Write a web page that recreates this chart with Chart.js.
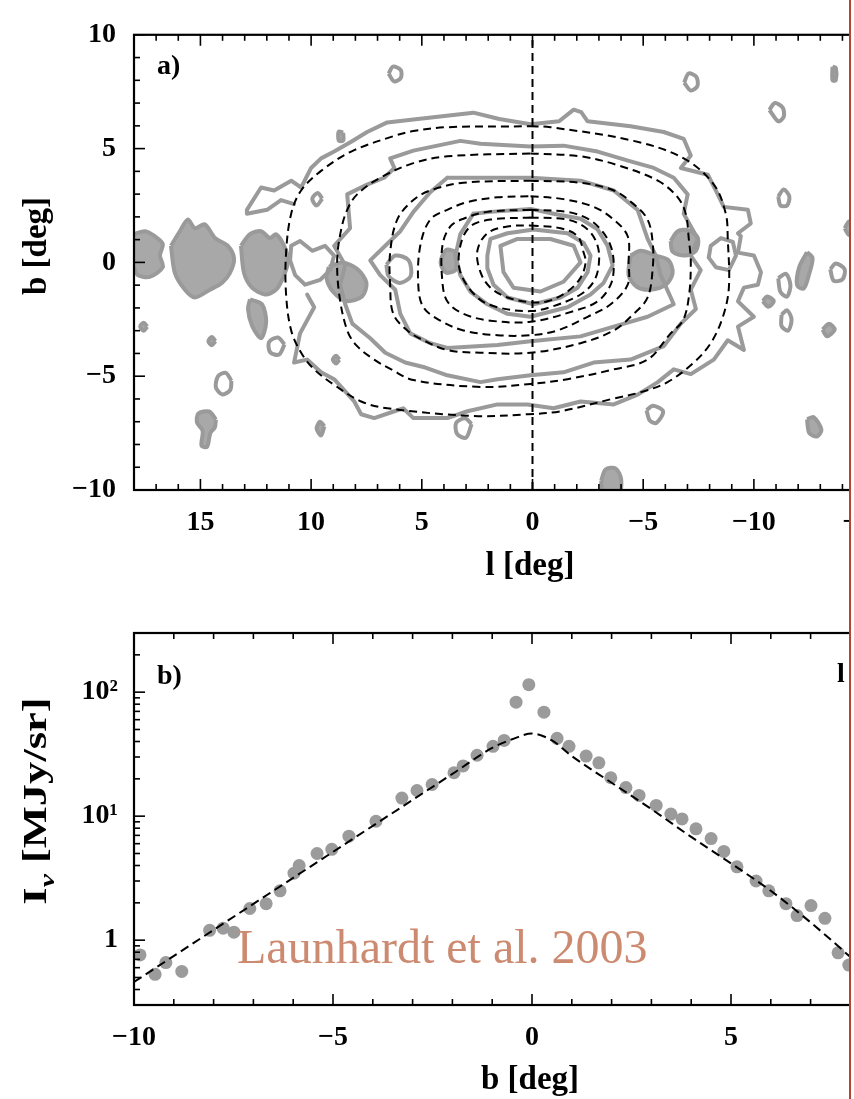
<!DOCTYPE html>
<html>
<head>
<meta charset="utf-8">
<script src="https://cdn.jsdelivr.net/npm/chart.js@4/dist/chart.umd.min.js"></script>
<style>
html,body{margin:0;padding:0;background:#fff;overflow:hidden;width:854px;height:1099px}
#wrap{position:absolute;left:0;top:0;width:850px;height:1099px;overflow:hidden;background:#fff}
#cA{position:absolute;left:0;top:0}
#cB{position:absolute;left:0;top:600px}
#redline{position:absolute;left:849px;top:0;width:2px;height:1099px;background:#b4442f}
#credit{position:absolute;left:237px;top:923px;font-family:"Liberation Serif",serif;font-size:48px;line-height:47px;color:#cc8a70;white-space:nowrap}
</style>
</head>
<body>
<div id="wrap">
<canvas id="cA" width="960" height="600"></canvas>
<canvas id="cB" width="960" height="499"></canvas>
</div>
<div id="redline"></div>
<div id="credit">Launhardt et al. 2003</div>
<script>
// ---------------- tick arrays ----------------
const lMajor = [15, 10, 5, 0, -5, -10, -15];
const lMinor = [18,17,16,15,14,13,12,11,10,9,8,7,6,5,4,3,2,1,0,-1,-2,-3,-4,-5,-6,-7,-8,-9,-10,-11,-12,-13,-14,-15,-16,-17,-18];
const bMajorA = [10, 5, 0, -5, -10];
const bMinorA = [10,9,8,7,6,5,4,3,2,1,0,-1,-2,-3,-4,-5,-6,-7,-8,-9,-10];
const bMajorB = [-10, -5, 0, 5, 10];
const bMinorB = [-10,-9,-8,-7,-6,-5,-4,-3,-2,-1,0,1,2,3,4,5,6,7,8,9,10];
const iMajor = [1, 10, 100];
const iMinor = [0.4,0.5,0.6,0.7,0.8,0.9,2,3,4,5,6,7,8,9,20,30,40,50,60,70,80,90,200,300];
const iLabels = {1: '1', 10: '10\u00B9', 100: '10\u00B2'};

// ---------------- panel a: model (dashed) contours, [l, b] ----------------
const model1 = [[0.09,5.98],[-0.81,5.94],[-4.57,5.34],[-6.83,4.57],[-8.19,3.42],[-8.73,2.14],[-8.82,1.03],[-8.87,-1.11],[-8.6,-2.39],[-8.05,-3.55],[-7.29,-4.4],[-6.1,-5.26],[-4.9,-5.7],[-3.67,-5.98],[-1.27,-6.54],[0.2,-6.67],[2.67,-6.75],[6.56,-6.41],[7.74,-6.11],[8.96,-5.38],[9.86,-4.7],[10.45,-3.97],[10.9,-2.99],[11.13,-1.41],[11.13,0.43],[10.9,2.14],[10.45,3.16],[9.55,4.02],[8.19,4.87],[6.24,5.56],[5.38,5.77],[3.85,5.94],[0.09,5.98]];
const model2 = [[0.09,4.79],[-2.17,4.66],[-3.85,4.27],[-5.66,3.59],[-6.56,2.86],[-6.92,2.14],[-7.06,1.03],[-7.15,0],[-7.06,-1.54],[-6.79,-2.56],[-6.24,-3.12],[-5.2,-4.27],[-3.67,-4.7],[-1.58,-5.13],[0.09,-5.34],[2.35,-5.47],[5.38,-5.17],[6.38,-4.7],[7.15,-4.27],[7.92,-3.68],[8.37,-2.99],[8.73,-1.41],[8.82,0.17],[8.64,1.45],[8.37,2.31],[7.92,2.99],[6.88,3.72],[5.38,4.36],[3.85,4.66],[0.09,4.79]];
const model3 = [[0.09,3.59],[-2.17,3.5],[-3.67,3.16],[-4.57,2.56],[-5.2,1.88],[-5.43,0.85],[-5.43,-0.26],[-5.2,-1.54],[-4.57,-2.26],[-3.67,-2.99],[-2.17,-3.55],[0.09,-3.97],[2.35,-3.97],[3.85,-3.85],[4.93,-3.42],[5.66,-2.99],[6.29,-2.26],[6.43,-0.98],[6.43,0.43],[6.11,1.88],[5.38,2.74],[4.62,3.16],[3.12,3.5],[0.09,3.59]];
const model4 = [[0.09,2.91],[-1.4,2.78],[-2.76,2.44],[-3.67,1.88],[-4.3,1.15],[-4.34,0],[-4.3,-0.98],[-3.53,-1.84],[-2.49,-2.39],[-1.13,-2.99],[0.09,-3.2],[1.58,-3.2],[3.12,-2.99],[4.16,-2.56],[4.93,-1.97],[5.16,-0.98],[5.07,0.73],[4.62,1.88],[3.85,2.31],[2.94,2.65],[1.58,2.86],[0.09,2.91]];
const model5 = [[0.09,2.31],[-1.58,2.22],[-2.49,1.92],[-3.08,1.45],[-3.53,0.73],[-3.67,-0.13],[-3.53,-0.98],[-2.94,-1.71],[-1.86,-2.14],[0.09,-2.61],[1.9,-2.56],[3.12,-2.26],[3.85,-1.71],[4.07,-0.85],[4.07,0.73],[3.71,1.58],[3.12,1.92],[2.04,2.22],[0.09,2.31]];
const model6 = [[0.09,1.97],[-1.58,1.88],[-2.49,1.45],[-2.94,0.73],[-2.99,-0.13],[-2.76,-0.85],[-2.17,-1.41],[-0.95,-1.92],[0.09,-2.14],[1.58,-1.97],[2.49,-1.54],[3.26,-0.43],[3.26,0.73],[2.81,1.58],[1.9,1.88],[0.09,1.97]];
const model7 = [[0.09,1.62],[-1.27,1.5],[-2.04,1.15],[-2.31,0.43],[-2.4,0],[-2.17,-0.68],[-1.58,-1.28],[-0.68,-1.71],[0.09,-1.75],[1.13,-1.54],[1.9,-1.11],[2.35,-0.43],[2.49,0.51],[2.04,1.28],[1.13,1.58],[0.09,1.62]];
const centreLine = [[0,-10],[0,10]];

// ---------------- panel a: observed (grey) contours, [l, b] ----------------
const greyOuter = [[10.77,2.56],[11.36,2.74],[11.99,2.31],[12.9,2.14],[12.9,2.31],[12.26,3.29],[11.67,3.16],[10.9,3.59],[10.45,3.29],[10.0,4.15],[9.55,4.57],[8.96,4.87],[8.19,5.3],[7.47,5.73],[6.56,6.15],[5.38,6.28],[2.67,6.58],[1.5,6.3],[0.09,6.07],[-1.2,6.2],[-1.86,6.71],[-2.2,6.6],[-2.49,6.2],[-4.43,5.98],[-5.93,5.73],[-6.83,5.43],[-7.15,4.7],[-6.7,4.15],[-7.92,3.85],[-8.37,2.99],[-8.64,2.44],[-9.73,2.31],[-9.86,1.71],[-9.28,1.28],[-9.41,1.15],[-9.28,0.43],[-10.0,0.3],[-10.32,-0.43],[-10.18,-0.98],[-9.55,-1.11],[-9.28,-1.71],[-10.0,-2.39],[-9.28,-2.82],[-9.55,-3.85],[-8.82,-3.42],[-8.19,-4.27],[-7.15,-4.91],[-6.38,-4.7],[-5.66,-5.26],[-4.75,-5.81],[-3.67,-6.24],[-2.17,-6.11],[-0.95,-6.41],[0.23,-6.24],[1.58,-6.24],[2.94,-6.54],[3.85,-6.84],[5.38,-6.84],[5.84,-6.41],[6.24,-6.54],[7.15,-6.84],[7.74,-6.67],[8.05,-6.11],[8.96,-5.13],[9.55,-4.83],[10.18,-4.27],[10.77,-4.4],[10.5,-3.12],[9.86,-1.97],[10.18,-1.41]];
const greySecond = [[6.43,4.57],[5.38,4.91],[3.26,5.34],[2.35,5.21],[0.09,5.09],[-1.4,5.13],[-2.94,4.87],[-4.43,4.44],[-5.48,4.15],[-6.38,3.72],[-7.01,2.99],[-6.83,2.14],[-7.47,1.03],[-7.15,0.3],[-7.6,-0.34],[-7.15,-1.2],[-7.38,-2.05],[-6.7,-2.69],[-5.93,-3.68],[-4.43,-4.27],[-2.76,-4.4],[-1.4,-4.83],[0.09,-4.96],[1.58,-5.13],[2.35,-5.26],[3.85,-4.96],[4.84,-4.62],[5.75,-4.4],[6.65,-3.97],[7.33,-3.33],[8.14,-2.69],[8.46,-1.84],[8.69,-0.98],[8.46,-0.13],[8.96,0.73],[8.24,1.5],[8.37,2.99],[7.47,3.42],[6.7,3.72],[6.24,4.15],[6.43,4.57]];
const greyThird = [[3.85,3.72],[2.35,3.72],[0.09,3.72],[-2.17,3.59],[-3.67,3.16],[-4.75,2.31],[-5.2,1.03],[-5.57,0.3],[-5.79,-0.56],[-6.38,-1.84],[-5.2,-2.39],[-3.67,-2.82],[-2.17,-3.25],[0.09,-3.46],[1.58,-3.63],[3.85,-3.76],[4.62,-3.55],[5.52,-3.12],[5.97,-2.26],[6.2,-1.2],[6.88,-0.56],[7.33,0.09],[6.65,0.73],[5.97,1.37],[5.38,2.22],[4.62,3.08],[3.85,3.72]];
const greyFourth = [[2.67,2.14],[1.9,2.22],[0.09,2.35],[-0.95,2.14],[-2.17,1.92],[-2.94,1.45],[-3.39,0.73],[-3.62,-0.13],[-3.21,-0.9],[-2.62,-1.41],[-1.58,-1.97],[0.09,-2.39],[1.13,-2.26],[2.04,-1.84],[2.81,-1.28],[3.26,-0.56],[3.48,0.3],[3.26,1.24],[2.67,2.14]];
const greyRingOut = [[1.9,1.03],[1.13,1.28],[-0.05,1.45],[-1.58,1.28],[-2.31,0.85],[-2.62,0.3],[-2.49,-0.43],[-2.04,-1.11],[-1.27,-1.54],[-0.05,-1.84],[1.13,-1.54],[1.76,-0.98],[2.04,-0.26],[2.04,0.3],[1.9,1.03]];
const greyRingIn = [[1.45,0.73],[0.68,1.03],[-0.81,1.03],[-1.86,0.73],[-2.17,0],[-1.4,-0.85],[-0.36,-1.28],[0.86,-1.11],[1.31,-0.43],[1.45,0.73]];
const greyRightKnot = [[-8.05,0.73],[-8.51,1.07],[-9.05,0.9],[-9.19,0.3],[-8.87,-0.34],[-8.28,-0.21],[-7.96,0.21],[-8.05,0.73]];
const greyLeftKnot = [[10.9,0.73],[10.5,0.94],[9.95,0.51],[9.37,0.73],[8.96,0.3],[9.14,-0.34],[9.59,-0.77],[10.27,-0.98],[10.72,-0.56],[10.95,0.09],[10.9,0.73]];
const ringA = [[6.5,8.3],[6.3,8.6],[5.95,8.45],[5.95,8.1],[6.25,7.95],[6.5,8.3]];
const ringB = [[-6.85,7.9],[-7.05,8.3],[-7.4,8.15],[-7.45,7.75],[-7.15,7.55],[-6.85,7.9]];
const ringC = [[-10.7,6.7],[-10.95,7.0],[-11.3,6.8],[-11.35,6.4],[-11.1,6.2],[-10.7,6.7]];
const ringE = [[-11.1,2.9],[-11.35,3.2],[-11.6,2.9],[-11.5,2.5],[-11.2,2.5],[-11.1,2.9]];
const ringF = [[-13.45,-0.3],[-13.7,-0.05],[-14.1,-0.3],[-14.0,-0.75],[-13.6,-0.8],[-13.45,-0.3]];
const ringH = [[-11.1,-0.7],[-11.45,-0.5],[-11.65,-1.0],[-11.5,-1.5],[-11.2,-1.3],[-11.1,-0.7]];
const ringJ = [[-11.25,-2.3],[-11.5,-2.1],[-11.7,-2.5],[-11.55,-3.0],[-11.25,-2.8],[-11.25,-2.3]];
const ringM = [[-5.15,-6.5],[-5.45,-6.3],[-5.9,-6.55],[-5.6,-7.05],[-5.3,-6.95],[-5.15,-6.5]];
const ringP = [[13.6,-5.2],[13.85,-4.85],[14.2,-5.0],[14.3,-5.5],[14.0,-5.8],[13.65,-5.6],[13.6,-5.2]];
const ringQ = [[11.2,-3.6],[11.5,-3.3],[11.9,-3.5],[11.85,-3.95],[11.45,-4.05],[11.2,-3.6]];
const ringR = [[2.75,-7.1],[3.05,-6.85],[3.45,-7.05],[3.4,-7.55],[3.0,-7.7],[2.75,-7.1]];
const ringS = [[9.5,2.8],[9.7,3.05],[9.95,2.8],[9.75,2.5],[9.5,2.8]];
const ringT = [[6.6,-0.1],[6.2,0.3],[5.6,0.1],[5.5,-0.6],[6.0,-0.9],[6.5,-0.6],[6.6,-0.1]];
const lumpL1 = [[18.0,1.24],[17.5,1.37],[17.06,1.15],[16.7,0.81],[16.83,0.3],[16.7,-0.21],[17.29,-0.64],[17.83,-0.56],[18.0,-0.21]];
const lumpL2 = [[16.33,0.73],[15.93,1.37],[15.57,1.88],[15.25,1.5],[14.8,1.67],[14.34,1.07],[13.76,0.73],[13.48,0.17],[13.67,-0.47],[14.03,-0.9],[14.57,-1.2],[15.25,-1.54],[15.7,-1.2],[16.15,-0.47],[16.33,0.73]];
const lumpL3 = [[13.17,0.73],[12.76,1.24],[12.26,1.37],[11.86,1.07],[11.58,1.24],[11.22,0.73],[11.04,0.09],[11.22,-0.56],[11.58,-1.2],[12.08,-1.41],[12.67,-1.11],[13.03,-0.47],[13.17,0.73]];
const lumpL4 = [[12.76,-1.62],[12.22,-1.84],[12.03,-2.61],[12.26,-3.33],[12.67,-2.78],[12.85,-2.05],[12.76,-1.62]];
const lumpL5 = [[9.2,-0.2],[8.6,0.0],[7.9,-0.3],[7.5,-0.9],[7.7,-1.5],[8.4,-1.7],[9.0,-1.3],[9.3,-0.7],[9.2,-0.2]];
const lumpR1 = [[-6.24,0.94],[-6.56,1.37],[-7.06,1.41],[-7.47,1.07],[-7.38,0.51],[-6.88,0.3],[-6.33,0.47],[-6.24,0.94]];
const lumpR2 = [[-4.43,0.3],[-4.89,0.51],[-5.57,0.3],[-6.15,0.09],[-6.33,-0.47],[-6.02,-0.98],[-5.34,-1.2],[-4.71,-1.07],[-4.34,-0.56],[-4.43,0.3]];
const lumpC = [[3.5,0.5],[3.9,0.55],[4.15,0.0],[3.9,-0.45],[3.45,-0.3],[3.5,0.5]];
const blobD = [[-13.55,8.6],[-13.7,8.55],[-13.7,8.0],[-13.55,8.0],[-13.55,8.6]];
const blobG = [[-12.4,0.45],[-12.65,0.2],[-12.5,-0.5],[-12.25,-1.15],[-11.95,-1.0],[-12.05,-0.2],[-12.4,0.45]];
const blobI = [[-10.4,-1.7],[-10.6,-1.5],[-10.9,-1.7],[-10.65,-1.95],[-10.4,-1.7]];
const blobK = [[-13.1,-2.95],[-13.4,-2.7],[-13.65,-2.95],[-13.3,-3.25],[-13.1,-2.95]];
const blobL = [[-12.4,-6.9],[-12.7,-6.8],[-13.05,-7.35],[-12.85,-7.65],[-12.5,-7.5],[-12.4,-6.9]];
const blobN = [[-14.1,1.5],[-14.3,1.8],[-14.5,1.5],[-14.3,1.2],[-14.1,1.5]];
const blobT = [[17.4,-2.82],[17.56,-2.65],[17.72,-2.82],[17.56,-3.0],[17.4,-2.82]];
const blobU = [[14.32,-3.46],[14.48,-3.28],[14.64,-3.46],[14.48,-3.64],[14.32,-3.46]];
const blobV = [[14.3,-6.9],[14.6,-6.55],[15.1,-6.65],[15.15,-7.05],[14.9,-7.4],[14.95,-8.05],[14.7,-8.1],[14.55,-7.5],[14.35,-7.25],[14.3,-6.9]];
const blobW = [[9.4,-7.2],[9.6,-7.0],[9.75,-7.3],[9.55,-7.6],[9.4,-7.2]];
const blobX = [[8.72,-4.27],[8.87,-4.1],[9.02,-4.27],[8.87,-4.44],[8.72,-4.27]];
const blobY = [[-3.1,-9.6],[-3.3,-9.1],[-3.75,-9.05],[-4.0,-9.5],[-3.9,-10.2],[-3.2,-10.2],[-3.1,-9.6]];
const blobZ = [[8.55,5.7],[8.75,5.75],[8.75,5.35],[8.55,5.35],[8.55,5.7]];

// ---------------- panel b: profile ----------------
const profB = [-9.85,-9.47,-9.2,-8.8,-8.1,-7.76,-7.49,-7.09,-6.68,-6.33,-5.98,-5.85,-5.4,-5.03,-4.6,-3.92,-3.27,-2.89,-2.51,-1.96,-1.73,-1.38,-0.98,-0.7,-0.4,-0.08,0.3,0.63,0.93,1.36,1.68,1.98,2.36,2.69,3.12,3.49,3.77,4.12,4.5,4.82,5.15,5.63,5.95,6.38,6.66,7.01,7.36,7.69,7.96];
const profI = [0.76,0.53,0.66,0.56,1.2,1.25,1.16,1.8,1.97,2.5,3.47,4.0,5.0,5.4,6.9,9.1,14.0,16.1,18.0,22.4,25.4,31.0,36.6,40.8,83,115,69,42.4,36.6,30.5,26.9,20.4,17.0,14.7,12.2,10.4,9.5,7.9,6.6,5.2,3.9,3.0,2.5,1.97,1.58,1.9,1.5,0.79,0.63];
const fitB = [-10,-8,-6,-4,-2,-1,-0.5,0,0.5,1,2,3,4,5,6,7,8,9,10];
const fitI = [0.46,1.21,3.18,8.35,21.9,35.5,41.7,46.4,40.8,30.5,18.6,11.4,6.8,4.16,2.5,1.39,0.73,0.37,0.176];

// ---------------- helpers ----------------
const pts = a => a.map(p => ({x: p[0], y: p[1]}));
const GREY = '#9a9a9a';
const dashedDS = a => ({data: pts(a), showLine: true, pointRadius: 0, borderColor: '#000', borderWidth: 2, borderDash: [8, 5], tension: 0.35, fill: false, order: 0});
const greyLine = a => ({data: pts(a), showLine: true, pointRadius: 0, borderColor: GREY, borderWidth: 4, tension: 0, fill: false, borderJoinStyle: 'round', borderCapStyle: 'round', order: 1});
const greyRing = a => ({data: pts(a), showLine: true, pointRadius: 0, borderColor: GREY, borderWidth: 4, tension: 0.3, fill: false, borderJoinStyle: 'round', order: 1});
const greyBlob = a => ({data: pts(a), showLine: true, pointRadius: 0, borderColor: GREY, borderWidth: 4, tension: 0.3, fill: 'shape', backgroundColor: '#a8a8a8', borderJoinStyle: 'round', order: 1});

const SERIF = '"Liberation Serif", "Times New Roman", serif';

const frameTicks = {
  id: 'frameTicks',
  afterDatasetsDraw(chart, args, o) {
    const {ctx, chartArea: {left, right, top, bottom}} = chart;
    const xs = chart.scales.x, ys = chart.scales.y;
    ctx.save();
    ctx.strokeStyle = '#000';
    ctx.lineWidth = 1.6;
    const seg = (x1, y1, x2, y2) => { ctx.beginPath(); ctx.moveTo(x1, y1); ctx.lineTo(x2, y2); ctx.stroke(); };
    o.xMinor.forEach(v => {
      const p = xs.getPixelForValue(v);
      const len = o.xMajor.includes(v) ? 11 : 6;
      seg(p, bottom, p, bottom - len);
      seg(p, top, p, top + len);
    });
    o.yMinor.forEach(v => {
      const p = ys.getPixelForValue(v);
      const len = o.yMajor.includes(v) ? 11 : 6;
      seg(left, p, left + len, p);
      seg(right, p, right - len, p);
    });
    ctx.lineWidth = 2.2;
    ctx.strokeRect(left, top, right - left, bottom - top);
    ctx.restore();
  }
};

const texts = {
  id: 'texts',
  afterDraw(chart, args, o) {
    const ctx = chart.ctx;
    (o.items || []).forEach(it => {
      ctx.save();
      ctx.translate(it.x, it.y);
      if (it.rot) ctx.rotate(it.rot);
      if (it.sx) ctx.scale(it.sx, 1);
      ctx.fillStyle = '#000';
      ctx.textBaseline = 'alphabetic';
      ctx.textAlign = 'left';
      let total = 0;
      const ws = it.parts.map(p => { ctx.font = p.font; const w = ctx.measureText(p.t).width; total += w; return w; });
      let x0 = it.align === 'left' ? 0 : -total / 2;
      it.parts.forEach((p, i) => { ctx.font = p.font; ctx.fillText(p.t, x0, p.dy || 0); x0 += ws[i]; });
      ctx.restore();
    });
  }
};

const tickFont = {family: SERIF, size: 28, weight: 'bold'};
const titleFont = 'bold 33px ' + SERIF;
const fmt = v => (v < 0 ? '\u2212' + Math.abs(v) : String(v));

// ---------------- chart a ----------------
const dsA = [
  dashedDS(model1), dashedDS(model2), dashedDS(model3), dashedDS(model4),
  dashedDS(model5), dashedDS(model6), dashedDS(model7),
  Object.assign(dashedDS(centreLine), {tension: 0}),
  greyLine(greyOuter), greyLine(greySecond), greyLine(greyThird), greyLine(greyFourth),
  greyLine(greyRingOut), greyLine(greyRingIn), greyLine(greyRightKnot), greyLine(greyLeftKnot),
  greyRing(ringA), greyRing(ringB), greyRing(ringC), greyRing(ringE), greyRing(ringF),
  greyRing(ringH), greyRing(ringJ), greyRing(ringM), greyRing(ringP), greyRing(ringQ),
  greyRing(ringR), greyRing(ringS), greyRing(ringT),
  greyBlob(lumpL1), greyBlob(lumpL2), greyBlob(lumpL3), greyBlob(lumpL4), greyBlob(lumpL5),
  greyBlob(lumpR1), greyBlob(lumpR2), greyBlob(lumpC),
  greyBlob(blobD), greyBlob(blobG), greyBlob(blobI), greyBlob(blobK), greyBlob(blobL),
  greyBlob(blobN), greyBlob(blobT), greyBlob(blobU), greyBlob(blobV), greyBlob(blobW),
  greyBlob(blobX), greyBlob(blobY), greyBlob(blobZ)
];

new Chart(document.getElementById('cA'), {
  type: 'scatter',
  data: {datasets: dsA},
  options: {
    responsive: false, animation: false, devicePixelRatio: 1,
    layout: {padding: {top: 22, right: 29, left: 0, bottom: 0}},
    plugins: {
      legend: {display: false}, tooltip: {enabled: false},
      frameTicks: {xMajor: lMajor, xMinor: lMinor, yMajor: bMajorA, yMinor: bMinorA},
      texts: {items: [
        {x: 530, y: 575, parts: [{t: 'l [deg]', font: titleFont}]},
        {x: 46, y: 246, rot: -Math.PI / 2, parts: [{t: 'b [deg]', font: titleFont}]},
        {x: 157, y: 74, align: 'left', parts: [{t: 'a)', font: 'bold 28px ' + SERIF}]}
      ]}
    },
    scales: {
      x: {
        type: 'linear', reverse: true, min: -18, max: 18,
        grid: {display: false, drawTicks: false}, border: {display: false},
        afterFit: s => { s.height = 110; },
        afterBuildTicks: s => { s.ticks = lMajor.map(v => ({value: v})); },
        ticks: {padding: 16, font: tickFont, color: '#000', maxRotation: 0, autoSkip: false, callback: v => fmt(v)}
      },
      y: {
        type: 'linear', min: -10, max: 10,
        grid: {display: false, drawTicks: false}, border: {display: false},
        afterFit: s => { s.width = 134; },
        afterBuildTicks: s => { s.ticks = bMajorA.map(v => ({value: v})); },
        ticks: {padding: 18, font: tickFont, color: '#000', autoSkip: false, callback: v => fmt(v)}
      }
    }
  },
  plugins: [frameTicks, texts]
});

// ---------------- chart b ----------------
const profPts = profB.map((b, i) => ({x: b, y: profI[i]}));
const fitPts = fitB.map((b, i) => ({x: b, y: fitI[i]}));

new Chart(document.getElementById('cB'), {
  type: 'scatter',
  data: {datasets: [
    {data: fitPts, showLine: true, pointRadius: 0, borderColor: '#000', borderWidth: 2, borderDash: [9, 5], cubicInterpolationMode: 'monotone', fill: false, order: 0},
    {data: profPts, showLine: false, pointRadius: 6.5, pointBackgroundColor: '#9b9b9b', pointBorderWidth: 0, order: 1}
  ]},
  options: {
    responsive: false, animation: false, devicePixelRatio: 1,
    layout: {padding: {top: 33, right: 29, left: 0, bottom: 0}},
    plugins: {
      legend: {display: false}, tooltip: {enabled: false},
      frameTicks: {xMajor: bMajorB, xMinor: bMinorB, yMajor: iMajor, yMinor: iMinor.concat(iMajor)},
      texts: {items: [
        {x: 530, y: 489, parts: [{t: 'b [deg]', font: titleFont}]},
        {x: 46, y: 201, rot: -Math.PI / 2, sx: 1.35, parts: [
          {t: 'I', font: titleFont},
          {t: '\u03BD', font: 'bold italic 22px ' + SERIF, dy: 8},
          {t: ' [MJy/sr]', font: titleFont}
        ]},
        {x: 157, y: 84, align: 'left', parts: [{t: 'b)', font: 'bold 28px ' + SERIF}]},
        {x: 837, y: 82, align: 'left', parts: [{t: 'l = 0\u00B0', font: 'bold 28px ' + SERIF}]}
      ]}
    },
    scales: {
      x: {
        type: 'linear', min: -10, max: 10,
        grid: {display: false, drawTicks: false}, border: {display: false},
        afterFit: s => { s.height = 94; },
        afterBuildTicks: s => { s.ticks = bMajorB.map(v => ({value: v})); },
        ticks: {padding: 16, font: tickFont, color: '#000', maxRotation: 0, autoSkip: false, callback: v => fmt(v)}
      },
      y: {
        type: 'logarithmic', min: 1 / 3, max: 300,
        grid: {display: false, drawTicks: false}, border: {display: false},
        afterFit: s => { s.width = 134; },
        afterBuildTicks: s => { s.ticks = iMajor.map(v => ({value: v})); },
        ticks: {padding: 16, font: tickFont, color: '#000', autoSkip: false, callback: v => iLabels[v] || ''}
      }
    }
  },
  plugins: [frameTicks, texts]
});
</script>
</body>
</html>
